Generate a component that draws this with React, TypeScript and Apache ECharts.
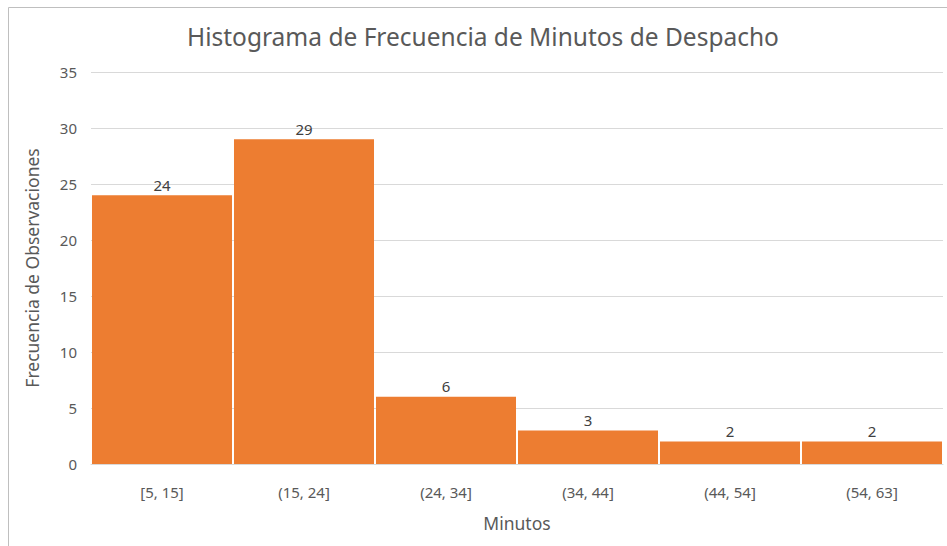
import React, { useEffect, useRef } from "react";
import * as echarts from "echarts";

const categories = ["[5, 15]", "(15, 24]", "(24, 34]", "(34, 44]", "(44, 54]", "(54, 63]"];
const frequencies = [24, 29, 6, 3, 2, 2];
const titleText = "Histograma de Frecuencia de Minutos de Despacho";
const xAxisName = "Minutos";
const yAxisName = "Frecuencia de Observaciones";

const FONT = "'Noto Sans', sans-serif";

export default function App() {
  const ref = useRef<HTMLDivElement>(null);
  useEffect(() => {
    if (!ref.current) return;
    const chart = echarts.init(ref.current, null, { renderer: "svg" });
    chart.setOption({
      animation: false,
      backgroundColor: "#ffffff",
      textStyle: { fontFamily: FONT },
      title: {
        text: titleText,
        left: 478,
        textAlign: "center",
        top: 19,
        textStyle: { fontFamily: FONT, fontSize: 24.5, fontWeight: "normal", color: "#595959" },
      },
      graphic: [
        {
          type: "polyline",
          shape: { points: [[8.5, 560], [8.5, 7.5], [960, 7.5]] },
          style: { stroke: "#bfbfbf", lineWidth: 1, fill: "none" },
          silent: true,
        },
      ],
      grid: { left: 91, right: 4, top: 72, bottom: 82, containLabel: false },
      xAxis: {
        type: "category",
        data: categories,
        name: xAxisName,
        nameLocation: "middle",
        nameGap: 50,
        nameTextStyle: { fontFamily: FONT, fontSize: 17.5, color: "#595959" },
        axisLine: { show: true, lineStyle: { color: "#d9d9d9" } },
        axisTick: { show: false },
        axisLabel: { fontFamily: FONT, fontSize: 15, color: "#595959", margin: 20 },
      },
      yAxis: {
        type: "value",
        min: 0,
        max: 35,
        interval: 5,
        name: yAxisName,
        nameLocation: "middle",
        nameGap: 50,
        nameTextStyle: { fontFamily: FONT, fontSize: 17.5, color: "#595959" },
        axisLine: { show: false },
        axisTick: { show: false },
        axisLabel: { fontFamily: FONT, fontSize: 15, color: "#595959", margin: 14 },
        splitLine: { lineStyle: { color: "#d9d9d9" } },
      },
      series: [
        {
          type: "bar",
          data: frequencies,
          barCategoryGap: "1.4%",
          itemStyle: { color: "#ed7d31" },
          label: {
            show: true,
            position: "top",
            distance: 3,
            fontFamily: FONT,
            fontSize: 15,
            color: "#404040",
          },
        },
      ],
    });
    return () => chart.dispose();
  }, []);
  return (
    <div
      ref={ref}
      style={{ position: "fixed", left: 0, top: 0, width: 947, height: 546 }}
    />
  );
}
